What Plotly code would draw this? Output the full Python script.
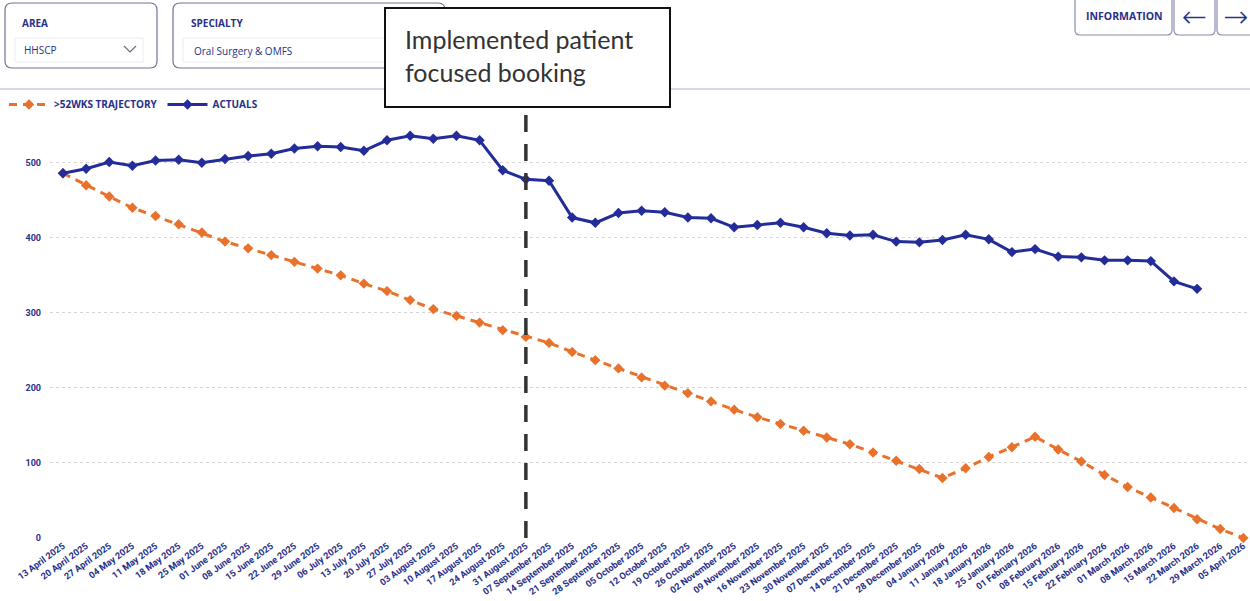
import plotly.graph_objects as go

# ---------------- data ----------------
dates = [
    "13 April 2025", "20 April 2025", "27 April 2025", "04 May 2025", "11 May 2025",
    "18 May 2025", "25 May 2025", "01 June 2025", "08 June 2025", "15 June 2025",
    "22 June 2025", "29 June 2025", "06 July 2025", "13 July 2025", "20 July 2025",
    "27 July 2025", "03 August 2025", "10 August 2025", "17 August 2025", "24 August 2025",
    "31 August 2025", "07 September 2025", "14 September 2025", "21 September 2025",
    "28 September 2025", "05 October 2025", "12 October 2025", "19 October 2025",
    "26 October 2025", "02 November 2025", "09 November 2025", "16 November 2025",
    "23 November 2025", "30 November 2025", "07 December 2025", "14 December 2025",
    "21 December 2025", "28 December 2025", "04 January 2026", "11 January 2026",
    "18 January 2026", "25 January 2026", "01 February 2026", "08 February 2026",
    "15 February 2026", "22 February 2026", "01 March 2026", "08 March 2026",
    "15 March 2026", "22 March 2026", "29 March 2026", "05 April 2026",
]

trajectory = [
    486, 470, 455, 440, 429, 418, 407, 395, 386, 377,
    368, 359, 350, 339, 329, 317, 305, 296, 287, 277,
    268, 260, 248, 237, 226, 214, 203, 193, 182, 171,
    161, 152, 143, 134, 125, 114, 103, 92, 80, 93,
    108, 121, 135, 118, 102, 84, 68, 54, 40, 25,
    12, 0,
]

actuals = [
    486, 492, 501, 496, 503, 504, 500, 505, 509, 512,
    519, 522, 521, 516, 530, 536, 532, 536, 530, 490,
    478, 476, 427, 420, 433, 436, 434, 427, 426, 414,
    417, 420, 414, 406, 403, 404, 395, 394, 397, 404,
    398, 381, 385, 375, 374, 370, 370, 369, 342, 332,
]

y_ticks = [0, 100, 200, 300, 400, 500]
event_date = "31 August 2025"
event_text = "Implemented patient<br>focused booking"

# ---------------- layout helpers ----------------
WIDTH, HEIGHT = 1250, 601
L, R, T, B = 50, 2, 114, 63
PW = WIDTH - L - R
PH = HEIGHT - T - B
NAVY = "#27308a"
BLUE = "#232c98"
ORANGE = "#e8722c"
FONT = "Open Sans"
TICKFONT = "Roboto"


def px(x):
    return (x - L) / PW


def py(y):
    return (HEIGHT - B - y) / PH


def rrect(x0, y0, x1, y1, r):
    pts = [
        ("M", x0 + r, y0), ("L", x1 - r, y0), ("Q", x1, y0, x1, y0 + r),
        ("L", x1, y1 - r), ("Q", x1, y1, x1 - r, y1), ("L", x0 + r, y1),
        ("Q", x0, y1, x0, y1 - r), ("L", x0, y0 + r), ("Q", x0, y0, x0 + r, y0),
    ]
    s = ""
    for p in pts:
        cmd = p[0]
        coords = p[1:]
        parts = []
        for i in range(0, len(coords), 2):
            parts.append(f"{px(coords[i]):.5f},{py(coords[i+1]):.5f}")
        s += cmd + " " + " ".join(parts) + " "
    return s + "Z"


fig = go.Figure()

fig.add_trace(go.Scatter(
    x=dates, y=trajectory, name=">52WKS TRAJECTORY", mode="lines+markers",
    line=dict(color=ORANGE, width=3, dash="8px,6px"),
    marker=dict(symbol="diamond", size=8, color=ORANGE),
    cliponaxis=False,
))
fig.add_trace(go.Scatter(
    x=dates[:len(actuals)], y=actuals, name="ACTUALS", mode="lines+markers",
    line=dict(color=BLUE, width=3),
    marker=dict(symbol="diamond", size=8, color=BLUE),
    cliponaxis=False,
))

shapes = []
# header separator line
shapes.append(dict(type="line", xref="paper", yref="paper",
                   x0=px(0), x1=px(WIDTH), y0=py(89), y1=py(89),
                   line=dict(color="#c9cce6", width=1.5), layer="above"))
# AREA card
shapes.append(dict(type="path", xref="paper", yref="paper",
                   path=rrect(5, 3, 157, 68, 7),
                   line=dict(color="#6f7399", width=1.2), fillcolor="white"))
shapes.append(dict(type="rect", xref="paper", yref="paper",
                   x0=px(15), x1=px(143), y0=py(38), y1=py(62),
                   line=dict(color="#ececf2", width=1), fillcolor="white"))
shapes.append(dict(type="path", xref="paper", yref="paper",
                   path=f"M {px(124):.5f},{py(46):.5f} L {px(130):.5f},{py(52):.5f} L {px(136):.5f},{py(46):.5f}",
                   line=dict(color="#666a80", width=1.2)))
# SPECIALTY card
shapes.append(dict(type="path", xref="paper", yref="paper",
                   path=rrect(173, 3, 445, 68, 7),
                   line=dict(color="#6f7399", width=1.2), fillcolor="white"))
shapes.append(dict(type="rect", xref="paper", yref="paper",
                   x0=px(183), x1=px(430), y0=py(38), y1=py(62),
                   line=dict(color="#ececf2", width=1), fillcolor="white"))
# buttons top right
shapes.append(dict(type="path", xref="paper", yref="paper",
                   path=rrect(1075, -5, 1172, 35, 5),
                   line=dict(color="#8a8eb0", width=1.2), fillcolor="white"))
shapes.append(dict(type="path", xref="paper", yref="paper",
                   path=rrect(1174, -5, 1215, 35, 5),
                   line=dict(color="#8a8eb0", width=1.2), fillcolor="white"))
shapes.append(dict(type="path", xref="paper", yref="paper",
                   path=rrect(1217, -5, 1262, 35, 5),
                   line=dict(color="#8a8eb0", width=1.2), fillcolor="white"))
# event vertical dashed line
shapes.append(dict(type="line", xref="x", yref="paper",
                   x0=dates.index(event_date), x1=dates.index(event_date),
                   y0=0, y1=py(107),
                   line=dict(color="#333333", width=3.5, dash="17px,12px"),
                   layer="above"))
# event callout box
shapes.append(dict(type="rect", xref="paper", yref="paper",
                   x0=px(385), x1=px(670), y0=py(107), y1=py(8),
                   line=dict(color="#111111", width=2), fillcolor="white",
                   layer="above"))

annotations = [
    dict(text="<b>AREA</b>", x=px(20), y=py(23), xref="paper", yref="paper",
         xanchor="left", yanchor="middle", showarrow=False,
         font=dict(family=FONT, size=10, color=NAVY)),
    dict(text="HHSCP", x=px(22), y=py(50), xref="paper", yref="paper",
         xanchor="left", yanchor="middle", showarrow=False,
         font=dict(family=FONT, size=10, color=NAVY)),
    dict(text="<b>SPECIALTY</b>", x=px(189), y=py(23), xref="paper", yref="paper",
         xanchor="left", yanchor="middle", showarrow=False,
         font=dict(family=FONT, size=10, color=NAVY)),
    dict(text="Oral Surgery & OMFS", x=px(192), y=py(51), xref="paper", yref="paper",
         xanchor="left", yanchor="middle", showarrow=False,
         font=dict(family=FONT, size=10, color=NAVY)),
    dict(text="<b>INFORMATION</b>", x=px(1124), y=py(16), xref="paper", yref="paper",
         xanchor="center", yanchor="middle", showarrow=False,
         font=dict(family=FONT, size=10.5, color=NAVY)),
    dict(text="←", x=px(1194), y=py(17), xref="paper", yref="paper",
         xanchor="center", yanchor="middle", showarrow=False,
         font=dict(family="DejaVu Sans", size=30, color=NAVY, weight=300)),
    dict(text="→", x=px(1235), y=py(17), xref="paper", yref="paper",
         xanchor="center", yanchor="middle", showarrow=False,
         font=dict(family="DejaVu Sans", size=30, color=NAVY, weight=300)),
    dict(text=event_text, x=px(403), y=py(56), xref="paper", yref="paper",
         xanchor="left", yanchor="middle", align="left", showarrow=False,
         font=dict(family="Lato", size=25, color="#333333")),
]

fig.update_layout(
    width=WIDTH, height=HEIGHT,
    margin=dict(l=L, r=R, t=T, b=B, autoexpand=False),
    paper_bgcolor="white", plot_bgcolor="white",
    font=dict(family=FONT, color=NAVY),
    showlegend=True,
    legend=dict(orientation="h", x=px(4), y=py(90), xanchor="left", yanchor="top",
                xref="paper", yref="paper",
                font=dict(family=FONT, size=10, color=NAVY, weight="bold"),
                itemwidth=40, tracegroupgap=0, bgcolor="rgba(0,0,0,0)"),
    shapes=shapes,
    annotations=annotations,
    hovermode=False,
)

fig.update_xaxes(
    type="category", categoryorder="array", categoryarray=dates,
    range=[-0.56, len(dates) - 1 + 0.2],
    showgrid=False, zeroline=False, showline=False,
    tickangle=-36, ticks="",
    tickfont=dict(family=TICKFONT, size=9.2, color=NAVY, weight="bold"),
)
fig.update_yaxes(
    range=[0, 565], tickvals=y_ticks, ticktext=[str(v) for v in y_ticks],
    showgrid=True, gridcolor="#d6d6d6", griddash="dot", gridwidth=1,
    zeroline=False, showline=False, ticks="",
    tickfont=dict(family=TICKFONT, size=9, color=NAVY, weight="bold"),
    ticklabelstandoff=8,
)

fig.write_html("out.html",
               config={"displayModeBar": False},
               post_script="document.body.style.margin='0px';document.body.style.padding='0px';")
